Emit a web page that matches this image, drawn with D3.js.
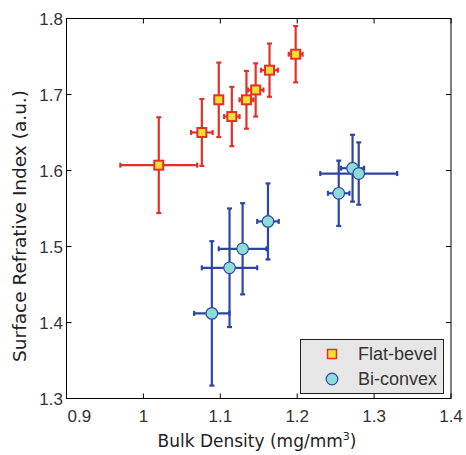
<!DOCTYPE html>
<html>
<head>
<meta charset="utf-8">
<script src="https://cdn.jsdelivr.net/npm/d3@7/dist/d3.min.js"></script>
<style>
  html, body { margin: 0; padding: 0; background: #fff; }
  svg { display: block; }
</style>
</head>
<body>
<svg id="chart" width="466" height="455"></svg>
<script>
// ---- data ----
const flatX    = [1.020, 1.076, 1.098, 1.115, 1.134, 1.146, 1.164, 1.198];
const flatY    = [1.607, 1.650, 1.693, 1.671, 1.693, 1.706, 1.732, 1.753];
const flatXErr = [0.050, 0.014, 0.005, 0.010, 0.009, 0.010, 0.011, 0.009];
const flatYErr = [0.063, 0.044, 0.049, 0.039, 0.038, 0.035, 0.035, 0.037];

const biX    = [1.089, 1.112, 1.129, 1.162, 1.254, 1.272, 1.280];
const biY    = [1.412, 1.472, 1.497, 1.533, 1.570, 1.603, 1.596];
const biXErr = [0.023, 0.036, 0.031, 0.014, 0.014, 0.015, 0.050];
const biYErr = [0.095, 0.078, 0.060, 0.050, 0.043, 0.044, 0.041];

const xTicks = [0.9, 1.0, 1.1, 1.2, 1.3, 1.4];
const yTicks = [1.3, 1.4, 1.5, 1.6, 1.7, 1.8];
const xTickLabels = ["0.9", "1", "1.1", "1.2", "1.3", "1.4"];
const yTickLabels = ["1.3", "1.4", "1.5", "1.6", "1.7", "1.8"];
const seriesNames = ["Flat-bevel", "Bi-convex"];

// ---- layout ----
const L = 66.5, R = 451, T = 18.5, B = 398.5;
const svg = d3.select("#chart");
const x = d3.scaleLinear().domain([0.9, 1.4]).range([L, R]);
const y = d3.scaleLinear().domain([1.3, 1.8]).range([B, T]);

const RED = "#e3312a", YEL = "#f0e030", BLUE = "#2d45a6", CYAN = "#8edcd7";
const tickFont = "'Liberation Sans', Arial, sans-serif";
const titleFont = "'DejaVu Sans', Verdana, sans-serif";

// ---- error bars & markers ----
function drawSeries(xs, ys, xe, ye, color, cls) {
  const g = svg.append("g").attr("class", cls);
  const cap = 2.5;
  xs.forEach((xv, i) => {
    const yv = ys[i];
    const px = x(xv), py = y(yv);
    const y0 = y(yv - ye[i]), y1 = y(yv + ye[i]);
    const x0 = x(xv - xe[i]), x1 = x(xv + xe[i]);
    const segs = [
      [px, y0, px, y1], [px - cap, y0, px + cap, y0], [px - cap, y1, px + cap, y1],
      [x0, py, x1, py], [x0, py - cap, x0, py + cap], [x1, py - cap, x1, py + cap]
    ];
    segs.forEach(s => g.append("line")
      .attr("x1", s[0]).attr("y1", s[1]).attr("x2", s[2]).attr("y2", s[3])
      .attr("stroke", color).attr("stroke-width", 2.2));
  });
  return g;
}

const gF = drawSeries(flatX, flatY, flatXErr, flatYErr, RED, "flat");
gF.selectAll("rect.m").data(flatX).join("rect").attr("class", "m")
  .attr("x", (d, i) => x(d) - 4.5).attr("y", (d, i) => y(flatY[i]) - 4.5)
  .attr("width", 9).attr("height", 9)
  .attr("fill", YEL).attr("stroke", RED).attr("stroke-width", 2);

const gB = drawSeries(biX, biY, biXErr, biYErr, BLUE, "bi");
gB.selectAll("circle.m").data(biX).join("circle").attr("class", "m")
  .attr("cx", d => x(d)).attr("cy", (d, i) => y(biY[i]))
  .attr("r", 5.8)
  .attr("fill", CYAN).attr("stroke", BLUE).attr("stroke-width", 1.2);

// ---- frame & ticks ----
const axes = svg.append("g");
axes.append("rect").attr("x", L).attr("y", T).attr("width", R - L).attr("height", B - T)
  .attr("fill", "none").attr("stroke", "#000").attr("stroke-width", 1);
const tl = 5;
xTicks.forEach(t => {
  axes.append("line").attr("x1", x(t)).attr("x2", x(t)).attr("y1", B).attr("y2", B - tl).attr("stroke", "#000");
  axes.append("line").attr("x1", x(t)).attr("x2", x(t)).attr("y1", T).attr("y2", T + tl).attr("stroke", "#000");
});
yTicks.forEach(t => {
  axes.append("line").attr("x1", L).attr("x2", L + tl).attr("y1", y(t)).attr("y2", y(t)).attr("stroke", "#000");
  axes.append("line").attr("x1", R).attr("x2", R - tl).attr("y1", y(t)).attr("y2", y(t)).attr("stroke", "#000");
});

// tick labels
svg.append("g").selectAll("text").data(xTicks).join("text")
  .attr("x", (d, i) => i === 0 ? x(d) + 1 : x(d))
  .attr("y", 422)
  .attr("text-anchor", (d, i) => i === 0 ? "start" : "middle")
  .attr("font-family", tickFont).attr("font-size", 17).attr("fill", "#333")
  .text((d, i) => xTickLabels[i]);

svg.append("g").selectAll("text").data(yTicks).join("text")
  .attr("x", 63).attr("y", d => y(d)).attr("dy", "0.36em")
  .attr("text-anchor", "end")
  .attr("font-family", tickFont).attr("font-size", 17).attr("fill", "#333")
  .text((d, i) => yTickLabels[i]);

// axis titles
const xt = svg.append("text").attr("x", 257).attr("y", 447).attr("text-anchor", "middle")
  .attr("font-family", titleFont).attr("font-size", 17).attr("fill", "#222");
xt.append("tspan").text("Bulk Density (mg/mm");
xt.append("tspan").attr("font-size", 11).attr("dy", -7).text("3");
xt.append("tspan").attr("dy", 7).text(")");

svg.append("text").attr("transform", "translate(26,226) rotate(-90)")
  .attr("text-anchor", "middle")
  .attr("font-family", titleFont).attr("font-size", 18.5).attr("fill", "#222")
  .text("Surface Refrative Index (a.u.)");

// ---- legend ----
const lg = svg.append("g");
lg.append("rect").attr("x", 300.5).attr("y", 339.5).attr("width", 143).attr("height", 54)
  .attr("fill", "#e6e6e6").attr("stroke", "#222").attr("stroke-width", 1);
lg.append("rect").attr("x", 332 - 4.5).attr("y", 354 - 4.5).attr("width", 9).attr("height", 9)
  .attr("fill", YEL).attr("stroke", RED).attr("stroke-width", 1.5);
lg.append("circle").attr("cx", 332).attr("cy", 379).attr("r", 5.8)
  .attr("fill", CYAN).attr("stroke", BLUE).attr("stroke-width", 1.2);
lg.selectAll("text").data(seriesNames).join("text")
  .attr("x", 358).attr("y", (d, i) => 360 + i * 25)
  .attr("font-family", tickFont).attr("font-size", 18).attr("fill", "#333")
  .text(d => d);
</script>
</body>
</html>
